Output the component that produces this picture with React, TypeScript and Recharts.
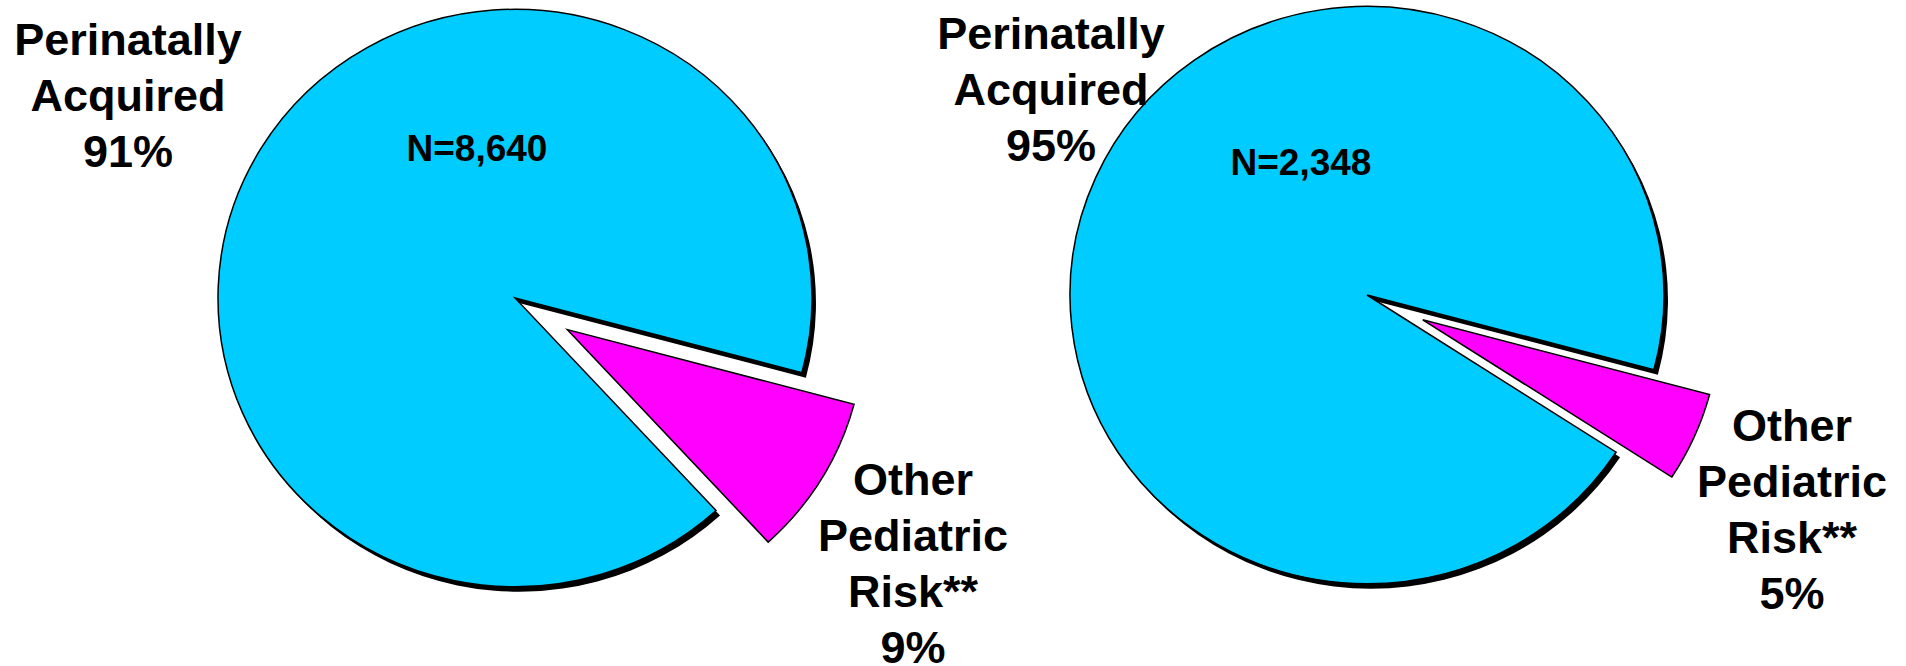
import { PieChart, Pie, Cell } from 'recharts'

const categories = ['Perinatally Acquired', 'Other Pediatric Risk**']
const categoryLines = [['Perinatally', 'Acquired'], ['Other', 'Pediatric', 'Risk**']]
const leftValues = [91, 9]
const rightValues = [95, 5]
const leftTotal = 'N=8,640'
const rightTotal = 'N=2,348'
const colors = ['#00ccff', '#ff00ff']

const W = 1906
const H = 666
const R = 297
const Y_RATIO = 0.972
const EXPLODE = 61
const START = -15
const RAD = Math.PI / 180
const FONT = "'Liberation Sans', Arial, sans-serif"

// text anchors (centre x, first baseline y) for each chart
const leftLayout = {
  cx: 515, cy: 298,
  labels: [{ x: 128, y: 55 }, { x: 913, y: 495 }],
  total: { x: 477, y: 161 },
}
const rightLayout = {
  cx: 1367, cy: 295,
  labels: [{ x: 1051, y: 49 }, { x: 1792, y: 441 }],
  total: { x: 1301, y: 175 },
}

const toData = (values: number[]) => categories.map((name, i) => ({ name, value: values[i] }))

// elliptical sector, the small slice pulled out along its mid angle,
// the big one with a hard black shadow like the original
function EllipseSector(props: any) {
  const { cx, cy, outerRadius, startAngle, endAngle, fill } = props
  const name = props.payload?.name ?? props.name
  const exploded = name === categories[1]
  const rx = outerRadius
  const ry = outerRadius * Y_RATIO
  const mid = ((startAngle + endAngle) / 2) * RAD
  const x0 = cx + (exploded ? EXPLODE * Math.cos(mid) : 0)
  const y0 = cy - (exploded ? EXPLODE * Math.sin(mid) : 0)
  const pt = (a: number) => [x0 + rx * Math.cos(a * RAD), y0 - ry * Math.sin(a * RAD)]
  const [x1, y1] = pt(startAngle)
  const [x2, y2] = pt(endAngle)
  const large = Math.abs(endAngle - startAngle) > 180 ? 1 : 0
  const d = `M${x0},${y0} L${x1},${y1} A${rx},${ry} 0 ${large} 0 ${x2},${y2} Z`
  return (
    <g>
      {!exploded && <path d={d} transform="translate(4,5)" fill="#000" />}
      <path d={d} fill={fill} stroke="#000" strokeWidth={1.5} />
    </g>
  )
}

function makeLabel(layout: typeof leftLayout, total: string) {
  return (props: any) => {
    const { index, value } = props
    const pos = layout.labels[index]
    const lines = [...categoryLines[index], `${value}%`]
    return (
      <g key={`lbl-${index}`}>
        <text x={pos.x} y={pos.y} textAnchor="middle" fontFamily={FONT} fontWeight="bold" fontSize={45} fill="#000">
          {lines.map((l, i) => (
            <tspan key={i} x={pos.x} y={pos.y + i * 56}>{l}</tspan>
          ))}
        </text>
        {index === 0 && (
          <text x={layout.total.x} y={layout.total.y} textAnchor="middle" fontFamily={FONT} fontWeight="bold" fontSize={37} fill="#000">
            {total}
          </text>
        )}
      </g>
    )
  }
}

export default function App() {
  const pies = [
    { key: 'left', values: leftValues, layout: leftLayout, total: leftTotal },
    { key: 'right', values: rightValues, layout: rightLayout, total: rightTotal },
  ]
  return (
    <div style={{ position: 'absolute', left: 0, top: 0, width: W, height: H, background: '#fff' }}>
      <PieChart width={W} height={H} margin={{ top: 0, right: 0, bottom: 0, left: 0 }}>
        {pies.map((p) => (
          <Pie
            key={p.key}
            data={toData(p.values)}
            dataKey="value"
            nameKey="name"
            cx={p.layout.cx}
            cy={p.layout.cy}
            outerRadius={R}
            startAngle={START}
            endAngle={START + 360}
            stroke="#000"
            shape={EllipseSector}
            label={makeLabel(p.layout, p.total)}
            labelLine={false}
            isAnimationActive={false}
          >
            {p.values.map((_, i) => (
              <Cell key={i} fill={colors[i]} />
            ))}
          </Pie>
        ))}
      </PieChart>
    </div>
  )
}
